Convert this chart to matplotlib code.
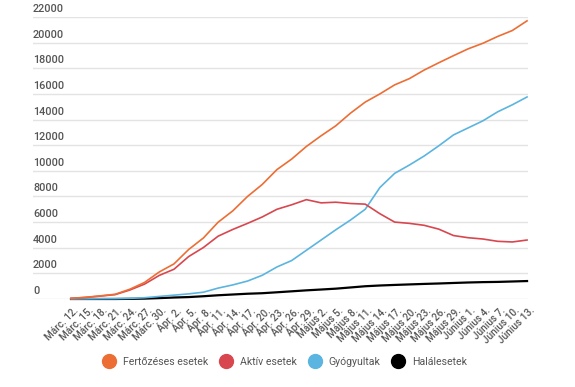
import matplotlib
matplotlib.use('Agg')
import matplotlib.pyplot as plt
from matplotlib.lines import Line2D
from matplotlib.transforms import ScaledTranslation

plt.rcParams['font.family'] = ['Roboto', 'DejaVu Sans']

# napok (3 naponta), Márc. 12-től számolva
days = [0, 3, 6, 9, 12, 15, 18, 21, 24, 27, 30, 33, 36, 39, 42, 45,
        48, 51, 54, 57, 60, 63, 66, 69, 72, 75, 78, 81, 84, 87, 90, 93]
day_labels = ['Márc. 12.', 'Márc. 15.', 'Márc. 18.', 'Márc. 21.', 'Márc. 24.',
              'Márc. 27.', 'Márc. 30.', 'Ápr. 2.', 'Ápr. 5.', 'Ápr. 8.',
              'Ápr. 11.', 'Ápr. 14.', 'Ápr. 17.', 'Ápr. 20.', 'Ápr. 23.',
              'Ápr. 26.', 'Ápr. 29.', 'Május 2.', 'Május 5.', 'Május 8.',
              'Május 11.', 'Május 14.', 'Május 17.', 'Május 20.', 'Május 23.',
              'Május 26.', 'Május 29.', 'Június 1.', 'Június 4.', 'Június 7.',
              'Június 10.', 'Június 13.']

fertozes = [49, 131, 246, 367, 762, 1292, 2109, 2738, 3864, 4761, 5990, 6879,
            8000, 8936, 10096, 10917, 11900, 12732, 13512, 14499, 15362, 16002,
            16704, 17191, 17857, 18429, 18982, 19517, 19950, 20479, 20945, 21700]
aktiv = [49, 122, 227, 342, 700, 1163, 1840, 2322, 3313, 4016, 4900, 5428,
         5900, 6400, 7000, 7350, 7750, 7500, 7550, 7450, 7400, 6650,
         6000, 5900, 5750, 5450, 4950, 4780, 4680, 4500, 4450, 4600]
gyogyult = [0, 9, 19, 25, 50, 100, 200, 300, 400, 530, 850, 1100,
            1400, 1850, 2500, 3000, 3800, 4600, 5400, 6160, 7000, 8700,
            9800, 10450, 11150, 11950, 12800, 13350, 13900, 14600, 15150, 15760]
halal = [0, 0, 0, 0, 11, 29, 69, 116, 151, 215, 291, 351,
         411, 451, 524, 599, 675, 739, 806, 900, 995, 1053,
         1097, 1137, 1176, 1210, 1250, 1288, 1316, 1333, 1366, 1400]

yticks = [0, 2000, 4000, 6000, 8000, 10000, 12000, 14000, 16000, 18000, 20000, 22000]

c_fert = '#ec6e35'
c_akt = '#d8474f'
c_gyo = '#5bb5e0'
c_hal = '#000000'
txt = '#555555'

fig = plt.figure(figsize=(5.75, 3.87), dpi=100)
ax = fig.add_axes([0.0574, 0.2274, 0.8609, 0.7287])

ax.plot(days, halal, color=c_hal, lw=1.6, clip_on=False)
ax.plot(days, gyogyult, color=c_gyo, lw=1.2, clip_on=False)
ax.plot(days, aktiv, color=c_akt, lw=1.2, clip_on=False)
ax.plot(days, fertozes, color=c_fert, lw=1.2, clip_on=False)

ax.set_xlim(-7.75, 93.2)
ax.set_ylim(0, 22000)
for s in ax.spines.values():
    s.set_visible(False)
ax.set_yticks(yticks)
ax.set_yticklabels([])
ax.tick_params(axis='both', length=0)
ax.grid(axis='y', color='#e3e3e3', lw=1)
ax.set_axisbelow(True)

# y feliratok a rácsvonalak fölött
ytr = ax.get_yaxis_transform() + ScaledTranslation(0, 0.03, fig.dpi_scale_trans)
for v in yticks:
    ax.text(0, v, str(v), transform=ytr, ha='left', va='bottom',
            fontsize=7.8, color=txt, fontweight='medium')

# x feliratok 45 fokban
ax.set_xticks(days)
ax.set_xticklabels([])
xtr = ax.get_xaxis_transform() + ScaledTranslation(0.06, -0.1, fig.dpi_scale_trans)
for d, lab in zip(days, day_labels):
    ax.text(d, 0, lab, transform=xtr, rotation=45, ha='right', va='center',
            rotation_mode='anchor', fontsize=7.2, color=txt, fontweight='medium')

handles = [Line2D([], [], ls='', marker='o', markersize=10, color=c)
           for c in (c_fert, c_akt, c_gyo, c_hal)]
fig.legend(handles, ['Fertőzéses esetek', 'Aktív esetek', 'Gyógyultak', 'Halálesetek'],
           loc='center', bbox_to_anchor=(0.492, 0.065), ncol=4, frameon=False,
           fontsize=7.6, labelcolor=txt, handletextpad=0.3, columnspacing=0.7)

fig.savefig('out.png', dpi=100)
